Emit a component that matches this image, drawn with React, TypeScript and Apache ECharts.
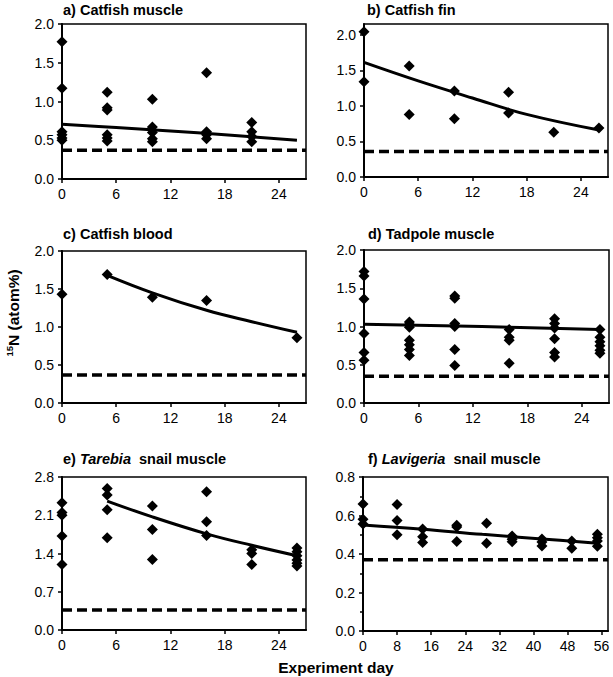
import React, { useEffect, useRef } from "react";
import * as echarts from "echarts";

const FONT = '"Liberation Sans", Arial, Helvetica, sans-serif';

// ---- tick labels ----
const dayTicks27 = [0, 6, 12, 18, 24];
const dayTicks57 = [0, 8, 16, 24, 32, 40, 48, 56];

// ---- a) Catfish muscle ----
const catfishMusclePts: [number, number][] = [
  [0, 1.77], [0, 1.17], [0, 0.61], [0, 0.57], [0, 0.53], [0, 0.5],
  [5, 1.12], [5, 0.92], [5, 0.89], [5, 0.57], [5, 0.53], [5, 0.49],
  [10, 1.03], [10, 0.67], [10, 0.6], [10, 0.52], [10, 0.48],
  [16, 1.37], [16, 0.61], [16, 0.57], [16, 0.52],
  [21, 0.73], [21, 0.61], [21, 0.55], [21, 0.48],
];
const catfishMuscleFit: [number, number][] = [[0, 0.705], [6, 0.665], [12, 0.62], [18, 0.57], [26, 0.5]];
const catfishMuscleBase = 0.37;

// ---- b) Catfish fin ----
const catfishFinPts: [number, number][] = [
  [0, 2.04], [0, 1.34], [5, 1.56], [5, 0.88], [10, 1.21], [10, 0.82],
  [16, 1.19], [16, 0.9], [21, 0.63], [26, 0.69],
];
const catfishFinFit: [number, number][] = [[0, 1.61], [6, 1.35], [12, 1.11], [18, 0.88], [26, 0.66]];
const catfishFinBase = 0.36;

// ---- c) Catfish blood ----
const catfishBloodPts: [number, number][] = [[0, 1.43], [5, 1.69], [10, 1.39], [16, 1.35], [26, 0.86]];
const catfishBloodFit: [number, number][] = [[5, 1.68], [10, 1.45], [16, 1.22], [21, 1.07], [26, 0.93]];
const catfishBloodBase = 0.37;

// ---- d) Tadpole muscle ----
const tadpolePts: [number, number][] = [
  [0, 1.72], [0, 1.66], [0, 1.36], [0, 0.91], [0, 0.66], [0, 0.56],
  [5, 1.06], [5, 1.03], [5, 0.99], [5, 0.82], [5, 0.76], [5, 0.7], [5, 0.62],
  [10, 1.4], [10, 1.37], [10, 1.04], [10, 1.0], [10, 0.7], [10, 0.49],
  [16, 0.96], [16, 0.86], [16, 0.82], [16, 0.52],
  [21, 1.1], [21, 1.04], [21, 0.98], [21, 0.84], [21, 0.66], [21, 0.6],
  [26, 0.96], [26, 0.86], [26, 0.8], [26, 0.75], [26, 0.69], [26, 0.65],
];
const tadpoleFit: [number, number][] = [[0, 1.03], [13, 1.0], [26, 0.96]];
const tadpoleBase = 0.35;

// ---- e) Tarebia snail muscle ----
const tarebiaPts: [number, number][] = [
  [0, 2.33], [0, 2.15], [0, 2.1], [0, 1.72], [0, 1.2],
  [5, 2.59], [5, 2.47], [5, 2.2], [5, 1.69],
  [10, 2.27], [10, 1.84], [10, 1.29],
  [16, 2.53], [16, 1.98], [16, 1.73],
  [21, 1.47], [21, 1.4], [21, 1.2],
  [26, 1.5], [26, 1.43], [26, 1.36], [26, 1.28], [26, 1.22], [26, 1.17],
];
const tarebiaFit: [number, number][] = [[5, 2.36], [10, 2.07], [16, 1.76], [21, 1.55], [26, 1.36]];
const tarebiaBase = 0.365;

// ---- f) Lavigeria snail muscle ----
const lavigeriaPts: [number, number][] = [
  [0, 0.66], [0, 0.58], [0, 0.556],
  [8, 0.657], [8, 0.574], [8, 0.5],
  [14, 0.53], [14, 0.49], [14, 0.46],
  [22, 0.55], [22, 0.54], [22, 0.465],
  [29, 0.56], [29, 0.456],
  [35, 0.494], [35, 0.477], [35, 0.464],
  [42, 0.478], [42, 0.462], [42, 0.442],
  [49, 0.468], [49, 0.43],
  [55, 0.502], [55, 0.485], [55, 0.468], [55, 0.44],
];
const lavigeriaFit: [number, number][] = [[0, 0.551], [14, 0.529], [28, 0.502], [42, 0.478], [55, 0.456]];
const lavigeriaBase = 0.37;

type Panel = {
  title: string;
  pts: [number, number][];
  fit: [number, number][];
  base: number;
  xMax: number;
  xTicks: number[];
  yMax: number;
  yInterval: number;
  yTicks: number[];
  minor?: boolean;
  grid: { left: number; top: number; width: number; height: number };
  titlePos: [number, number];
};

const panels: Panel[] = [
  {
    title: "{b|a) Catfish muscle}", pts: catfishMusclePts, fit: catfishMuscleFit, base: catfishMuscleBase,
    xMax: 27, xTicks: dayTicks27, yMax: 2, yInterval: 0.5, yTicks: [0, 0.5, 1, 1.5, 2],
    grid: { left: 62, top: 24, width: 244, height: 155 }, titlePos: [63, 10],
  },
  {
    title: "{b|b) Catfish fin}", pts: catfishFinPts, fit: catfishFinFit, base: catfishFinBase,
    xMax: 27, xTicks: dayTicks27, yMax: 2.15, yInterval: 0.5, yTicks: [0, 0.5, 1, 1.5, 2],
    grid: { left: 364, top: 24, width: 244, height: 153 }, titlePos: [367, 10],
  },
  {
    title: "{b|c) Catfish blood}", pts: catfishBloodPts, fit: catfishBloodFit, base: catfishBloodBase,
    xMax: 27, xTicks: dayTicks27, yMax: 2, yInterval: 0.5, yTicks: [0, 0.5, 1, 1.5, 2],
    grid: { left: 62, top: 251, width: 244, height: 152 }, titlePos: [63, 234],
  },
  {
    title: "{b|d) Tadpole muscle}", pts: tadpolePts, fit: tadpoleFit, base: tadpoleBase,
    xMax: 27, xTicks: dayTicks27, yMax: 2, yInterval: 0.5, yTicks: [0, 0.5, 1, 1.5, 2],
    grid: { left: 364, top: 250, width: 245, height: 153 }, titlePos: [368, 234],
  },
  {
    title: "{b|e) }{i|Tarebia}{b|  snail muscle}", pts: tarebiaPts, fit: tarebiaFit, base: tarebiaBase,
    xMax: 27, xTicks: dayTicks27, yMax: 2.8, yInterval: 0.7, yTicks: [0, 0.7, 1.4, 2.1, 2.8],
    grid: { left: 62, top: 477, width: 244, height: 153 }, titlePos: [63, 459],
  },
  {
    title: "{b|f) }{i|Lavigeria}{b|  snail muscle}", pts: lavigeriaPts, fit: lavigeriaFit, base: lavigeriaBase,
    xMax: 57.5, xTicks: dayTicks57, yMax: 0.8, yInterval: 0.2, yTicks: [0, 0.2, 0.4, 0.6, 0.8], minor: true,
    grid: { left: 363, top: 477, width: 245, height: 154 }, titlePos: [368, 459],
  },
];

export default function App() {
  const ref = useRef<HTMLDivElement>(null);
  useEffect(() => {
    if (!ref.current) return;
    const chart = echarts.init(ref.current, undefined, { renderer: "svg" });
    const axisLine = { onZero: false, lineStyle: { color: "#000", width: 2 } };
    const label = { color: "#000", fontSize: 14, fontFamily: FONT };
    const grids = panels.map((p) => ({
      ...p.grid, show: true, borderColor: "#000", borderWidth: 1.5, containLabel: false,
    }));
    const xAxes = panels.map((p, i) => ({
      gridIndex: i, type: "value", min: 0, max: p.xMax,
      axisLine,
      axisTick: { show: true, length: 4, customValues: p.xTicks, lineStyle: { color: "#000", width: 1.5 } },
      axisLabel: { ...label, margin: 8, customValues: p.xTicks, formatter: (v: number) => String(v) },
      splitLine: { show: false },
    }));
    const yAxes = panels.map((p, i) => ({
      gridIndex: i, type: "value", min: 0, max: p.yMax, interval: p.yInterval,
      axisLine,
      axisTick: p.minor
        ? { show: true, length: 4, lineStyle: { color: "#000", width: 1.5 } }
        : { show: true, length: 4, customValues: p.yTicks, lineStyle: { color: "#000", width: 1.5 } },
      minorTick: p.minor ? { show: true, splitNumber: 2, length: 3, lineStyle: { color: "#000", width: 1.5 } } : { show: false },
      axisLabel: p.minor
        ? { ...label, margin: 8, formatter: (v: number) => v.toFixed(1) }
        : { ...label, margin: 8, customValues: p.yTicks, formatter: (v: number) => v.toFixed(1) },
      splitLine: { show: false },
      minorSplitLine: { show: false },
    }));
    const series: any[] = [];
    panels.forEach((p, i) => {
      series.push({
        type: "line", xAxisIndex: i, yAxisIndex: i, data: [[0, p.base], [p.xMax, p.base]],
        showSymbol: false, symbol: "none", lineStyle: { color: "#000", width: 3.5, type: [10, 5] }, z: 2,
      });
      series.push({
        type: "line", xAxisIndex: i, yAxisIndex: i, data: p.fit, smooth: 0.4,
        showSymbol: false, symbol: "none", lineStyle: { color: "#000", width: 3 }, z: 3,
      });
      series.push({
        type: "scatter", xAxisIndex: i, yAxisIndex: i, data: p.pts,
        symbol: "diamond", symbolSize: 11, itemStyle: { color: "#000", opacity: 1 }, z: 4,
      });
    });
    const titleRich = {
      b: { fontSize: 14.5, fontWeight: "bold", fontFamily: FONT, fill: "#000" },
      i: { fontSize: 14.5, fontWeight: "bold", fontStyle: "italic", fontFamily: FONT, fill: "#000" },
    };
    const graphic: any[] = panels.map((p) => ({
      type: "text", x: p.titlePos[0], y: p.titlePos[1],
      style: { text: p.title, verticalAlign: "middle", align: "left", rich: titleRich, fill: "#000" },
    }));
    graphic.push({
      type: "text", x: 13, y: 313, rotation: Math.PI / 2,
      style: {
        text: "{s|15}{n|N (atom%)}", align: "center", verticalAlign: "middle", fill: "#000",
        rich: {
          s: { fontSize: 9.5, fontWeight: "bold", fontFamily: FONT, fill: "#000", verticalAlign: "top", lineHeight: 11 },
          n: { fontSize: 15.5, fontWeight: "bold", fontFamily: FONT, fill: "#000", lineHeight: 18 },
        },
      },
    });
    graphic.push({
      type: "text", x: 336, y: 667,
      style: { text: "Experiment day", align: "center", verticalAlign: "middle", fontSize: 15.5, fontWeight: "bold", fontFamily: FONT, fill: "#000" },
    });
    chart.setOption({
      animation: false,
      backgroundColor: "#fff",
      grid: grids,
      xAxis: xAxes,
      yAxis: yAxes,
      series,
      graphic,
    });
    return () => chart.dispose();
  }, []);
  return <div ref={ref} style={{ position: "fixed", left: 0, top: 0, width: 613, height: 677 }} />;
}
